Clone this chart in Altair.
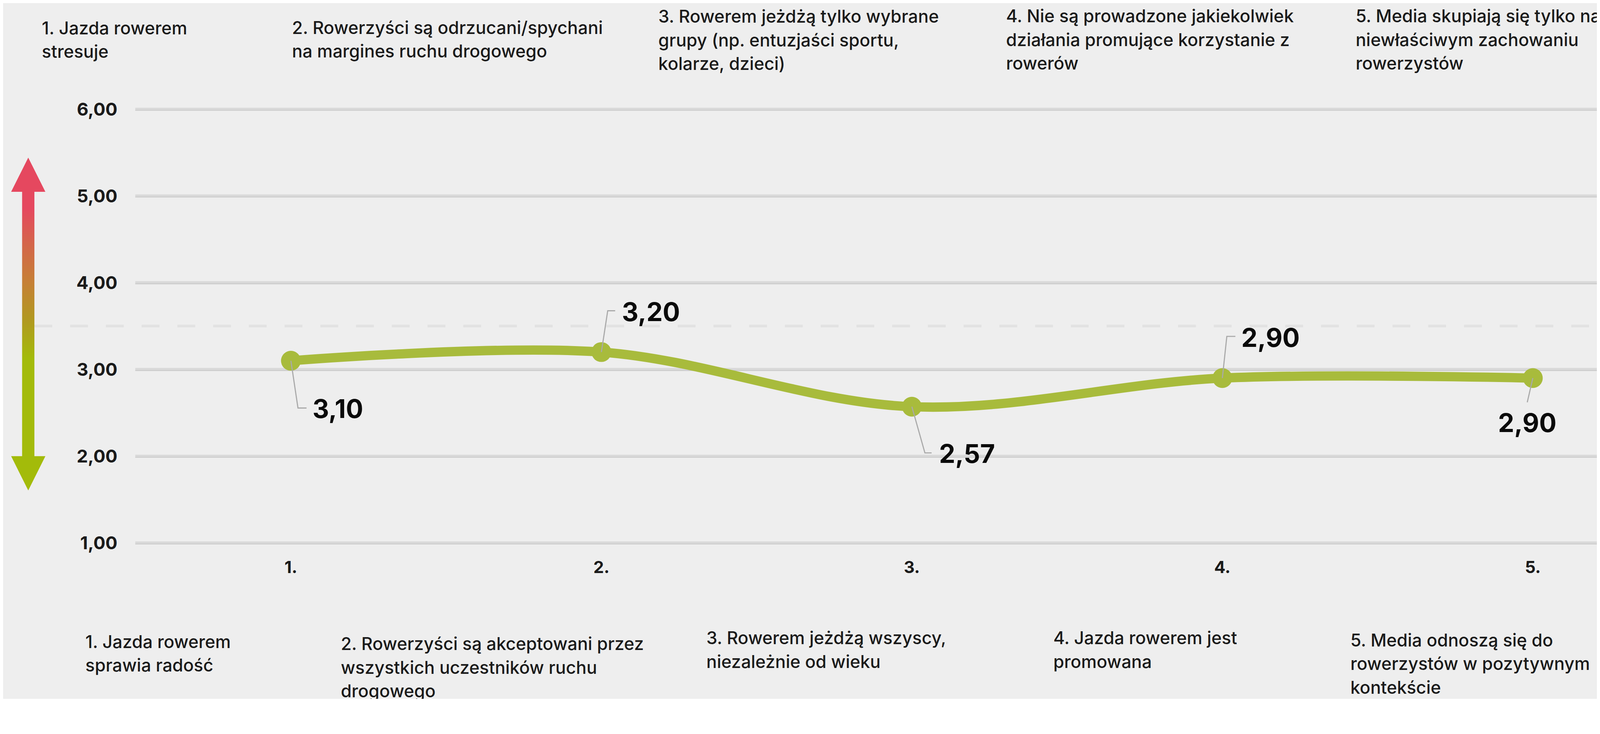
import altair as alt
import pandas as pd

# ---------------- data ----------------
cats = [1, 2, 3, 4, 5]
cat_labels = ["1.", "2.", "3.", "4.", "5."]
values = [3.10, 3.20, 2.57, 2.90, 2.90]
value_labels = ["3,10", "3,20", "2,57", "2,90", "2,90"]
y_ticks = [1, 2, 3, 4, 5, 6]
y_tick_labels = ["1,00", "2,00", "3,00", "4,00", "5,00", "6,00"]
mid_level = 3.5

top_texts = [
    ["1. Jazda rowerem", "stresuje"],
    ["2. Rowerzyści są odrzucani/spychani", "na margines ruchu drogowego"],
    ["3. Rowerem jeżdżą tylko wybrane", "grupy (np. entuzjaści sportu,", "kolarze, dzieci)"],
    ["4. Nie są prowadzone jakiekolwiek", "działania promujące korzystanie z", "rowerów"],
    ["5. Media skupiają się tylko na", "niewłaściwym zachowaniu", "rowerzystów"],
]
bottom_texts = [
    ["1. Jazda rowerem", "sprawia radość"],
    ["2. Rowerzyści są akceptowani przez", "wszystkich uczestników ruchu", "drogowego"],
    ["3. Rowerem jeżdżą wszyscy,", "niezależnie od wieku"],
    ["4. Jazda rowerem jest", "promowana"],
    ["5. Media odnoszą się do", "rowerzystów w pozytywnym", "kontekście"],
]

# ---------------- layout (pixels) ----------------
SHIFT = 41            # extra space the page adds above the chart
W, H = 4281, 1863 - 2 * SHIFT
PX_PER_X = 834.0
PX_PER_Y = 233.0
X1_PX = 773.0
Y6_PX = 282.0 - SHIFT
LINE_H = 63.5


def px_x(p):
    return 1 + (p - X1_PX) / PX_PER_X


def px_y(p):
    # p is given in full-chart pixel coordinates (before the shift)
    return 6 - (p - SHIFT - Y6_PX) / PX_PER_Y


XMIN, XMAX = px_x(0), px_x(W)
YMAX = 6 + Y6_PX / PX_PER_Y
YMIN = 6 - (H - Y6_PX) / PX_PER_Y

xs = alt.Scale(domain=[XMIN, XMAX], nice=False, zero=False)
ys = alt.Scale(domain=[YMIN, YMAX], nice=False, zero=False)

GREEN = "#A8BB3C"
FONT = "Inter"
TXT = "#1A1A1A"


def X(f):
    return alt.X(f, type="quantitative", scale=xs, axis=None)


def Y(f):
    return alt.Y(f, type="quantitative", scale=ys, axis=None)


label_pos = [
    (19, 127, 42, 58, 154, "left"),
    (17, -111, 37, 55, -83, "left"),
    (35, 124, 53, 73, 151, "left"),
    (12, -112, 35, 51, -84, "left"),
    (-15, 65, -15, -15, 145, "center"),
]

main = pd.DataFrame({"x": cats, "y": values, "lab": value_labels, "cl": cat_labels})

grid = pd.DataFrame({"y": y_ticks, "x0": [px_x(355)] * 6, "x1": [XMAX] * 6, "lab": y_tick_labels,
                     "xl": [px_x(307)] * 6})
grid_main = alt.Chart(grid).mark_rule(color="#D9D9D9", strokeWidth=8).encode(
    x=X("x0"), x2="x1", y=Y("y"))
grid_shadow = alt.Chart(grid).mark_rule(color="#C8C8C8", strokeWidth=2, yOffset=3).encode(
    x=X("x0"), x2="x1", y=Y("y"))
tick_text = alt.Chart(grid).mark_text(font=FONT, fontSize=48, fontWeight=700, color=TXT, align="right",
                                      baseline="alphabetic", dy=17).encode(
    x=X("xl"), y=Y("y"), text="lab:N")

dash_df = pd.DataFrame({"y": [mid_level], "x0": [px_x(84)], "x1": [XMAX]})
dash = alt.Chart(dash_df).mark_rule(color="#E2E2E2", strokeWidth=7, strokeDash=[48, 48]).encode(
    x=X("x0"), x2="x1", y=Y("y"))

grad = alt.LinearGradient(
    gradient="linear", x1=0, y1=0, x2=0, y2=1,
    stops=[
        alt.GradientStop(color="#E5485F", offset=0),
        alt.GradientStop(color="#E5485F", offset=0.07),
        alt.GradientStop(color="#D4654A", offset=0.2),
        alt.GradientStop(color="#C67F36", offset=0.34),
        alt.GradientStop(color="#B09A1F", offset=0.49),
        alt.GradientStop(color="#A3BB0A", offset=0.63),
        alt.GradientStop(color="#A3BB0A", offset=1),
    ],
)
AX = 67.5
shaft_df = pd.DataFrame({"x0": [px_x(AX - 16.5)], "x1": [px_x(AX + 16.5)],
                         "y0": [px_y(500)], "y1": [px_y(1218)]})
shaft = alt.Chart(shaft_df).mark_rect(color=grad, opacity=1).encode(
    x=X("x0"), x2="x1", y=Y("y0"), y2="y1")
heads_df = pd.DataFrame({"x": [px_x(AX), px_x(AX)], "y": [px_y(458), px_y(1260)],
                         "s": ["up", "down"]})
head_up = alt.Chart(heads_df[heads_df.s == "up"]).mark_point(
    shape="M0,-1 L1,1 L-1,1 Z", size=92 ** 2, filled=True, color="#E5485F", opacity=1,
    strokeWidth=0).encode(x=X("x"), y=Y("y"))
head_dn = alt.Chart(heads_df[heads_df.s == "down"]).mark_point(
    shape="M0,1 L1,-1 L-1,-1 Z", size=92 ** 2, filled=True, color="#A3BB0A", opacity=1,
    strokeWidth=0).encode(x=X("x"), y=Y("y"))

line = alt.Chart(main).mark_line(interpolate="catmull-rom", strokeWidth=25, color=GREEN).encode(
    x=X("x"), y=Y("y"))
pts = alt.Chart(main).mark_circle(size=2830, color=GREEN, opacity=1).encode(x=X("x"), y=Y("y"))

conn_rows, lab_rows = [], []
for i, (c, v, t) in enumerate(zip(cats, values, value_labels)):
    ex, ey, endx, lx, ly, al = label_pos[i]
    conn_rows += [
        {"id": i, "o": 0, "x": c, "y": v},
        {"id": i, "o": 1, "x": c + ex / PX_PER_X, "y": v - ey / PX_PER_Y},
        {"id": i, "o": 2, "x": c + endx / PX_PER_X, "y": v - ey / PX_PER_Y},
    ]
    lab_rows.append({"x": c + lx / PX_PER_X, "y": v - ly / PX_PER_Y, "lab": t, "al": al})
conn = pd.DataFrame(conn_rows)
labs = pd.DataFrame(lab_rows)
connectors = alt.Chart(conn).mark_line(color="#A9A9A9", strokeWidth=3).encode(
    x=X("x"), y=Y("y"), detail="id:N", order="o:Q")
val_left = alt.Chart(labs[labs.al == "left"]).mark_text(
    font=FONT, fontSize=69, fontWeight=700, color="#0A0A0A", align="left", baseline="alphabetic"
).encode(x=X("x"), y=Y("y"), text="lab:N")
val_center = alt.Chart(labs[labs.al == "center"]).mark_text(
    font=FONT, fontSize=69, fontWeight=700, color="#0A0A0A", align="center", baseline="alphabetic"
).encode(x=X("x"), y=Y("y"), text="lab:N")

cat_df = pd.DataFrame({"x": cats, "y": [px_y(1528)] * 5, "lab": cat_labels})
cat_text = alt.Chart(cat_df).mark_text(font=FONT, fontSize=45, fontWeight=700, color=TXT, align="center",
                                       baseline="alphabetic").encode(
    x=X("x"), y=Y("y"), text="lab:N")

top_xy = [(104, 81), (776, 80), (1760, 50), (2694, 49), (3633, 49)]
bot_xy = [(221, 1729), (907, 1735), (1889, 1719), (2821, 1719), (3619, 1725)]
rows = []
for lines, (px, py) in zip(top_texts + bottom_texts, top_xy + bot_xy):
    for k, s in enumerate(lines):
        rows.append({"x": px_x(px), "y": px_y(py + k * LINE_H), "t": s})
desc = pd.DataFrame(rows)
desc_text = alt.Chart(desc).mark_text(font=FONT, fontSize=47, fontWeight=500, color=TXT, align="left",
                                      baseline="alphabetic").encode(
    x=X("x"), y=Y("y"), text="t:N")

chart = alt.layer(
    dash, grid_main, grid_shadow, shaft, head_up, head_dn, tick_text, line, pts, connectors,
    val_left, val_center, cat_text, desc_text
).properties(
    width=W, height=H, padding=0, autosize=alt.AutoSizeParams(type="none"), background="#EEEEEE"
).configure_view(stroke=None)

chart.save("out.html", embed_options={"renderer": "svg", "actions": False})
